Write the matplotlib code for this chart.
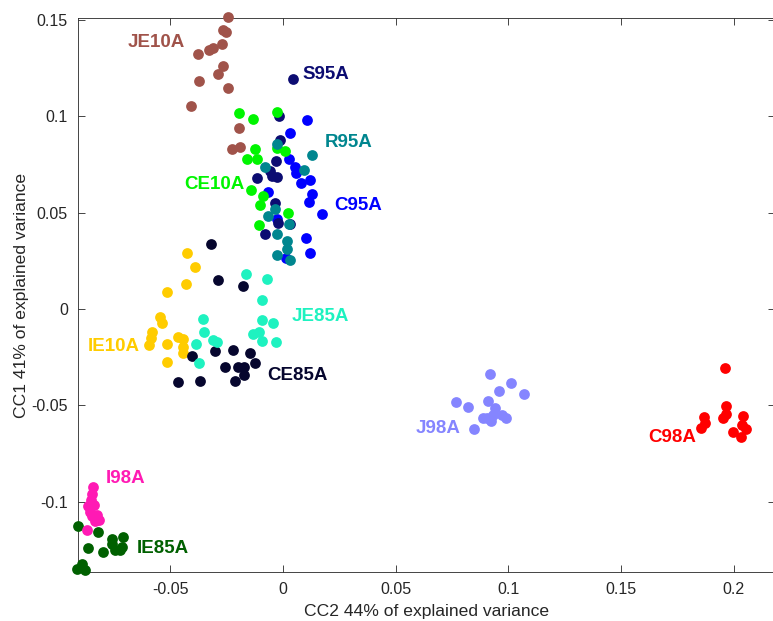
import matplotlib
matplotlib.use("Agg")
import matplotlib.pyplot as plt

plt.rcParams['font.family'] = ['Liberation Sans', 'DejaVu Sans']

# group name, colour, x values (CC2), y values (CC1), label position
names = ['IE85A', 'I98A', 'IE10A', 'CE85A', 'JE85A', 'JE10A',
         'C95A', 'S95A', 'CE10A', 'R95A', 'J98A', 'C98A']

colors = {
    'JE10A': '#a0534a', 'S95A': '#0c0c72', 'R95A': '#00868f',
    'CE10A': '#00f500', 'C95A': '#0000ff', 'JE85A': '#1ef2c0',
    'IE10A': '#ffcc00', 'CE85A': '#06062e', 'J98A': '#8585ff',
    'C98A': '#ff0000', 'I98A': '#ff1ab4', 'IE85A': '#006000',
}

JE10A_x = [-0.0245, -0.0265, -0.0254, -0.0269, -0.0309, -0.0327, -0.0378, -0.0265,
           -0.0287, -0.0373, -0.0243, -0.0407, -0.0195, -0.0227, -0.0191]
JE10A_y = [0.1515, 0.1449, 0.1437, 0.1375, 0.1354, 0.1342, 0.1325, 0.1259,
           0.1219, 0.1183, 0.1147, 0.1056, 0.0939, 0.0830, 0.0843]

S95A_x = [0.0043, -0.0019, -0.0013, -0.0030, -0.0058, -0.0028, -0.0117, -0.0035,
          -0.0022, 0.0031, -0.0080, -0.0049]
S95A_y = [0.1195, 0.1000, 0.0878, 0.0767, 0.0714, 0.0683, 0.0678, 0.0549,
          0.0448, 0.0443, 0.0391, 0.0692]

CE10A_x = [-0.0195, -0.0134, -0.0027, -0.0123, -0.0161, -0.0117, -0.0028, 0.0009,
           -0.0142, -0.0090, -0.0102, 0.0021, -0.0106]
CE10A_y = [0.1018, 0.0986, 0.1020, 0.0831, 0.0778, 0.0778, 0.0837, 0.0818,
           0.0619, 0.0587, 0.0538, 0.0501, 0.0435]

C95A_x = [0.0109, 0.0030, 0.0028, 0.0053, 0.0060, 0.0081, 0.0122, -0.0065,
          0.0129, 0.0117, 0.0173, -0.0028, 0.0103, 0.0120, 0.0016]
C95A_y = [0.0982, 0.0913, 0.0777, 0.0738, 0.0707, 0.0655, 0.0668, 0.0607,
          0.0599, 0.0554, 0.0492, 0.0468, 0.0367, 0.0290, 0.0263]

R95A_x = [0.0130, -0.0024, -0.0080, 0.0092, -0.0033, -0.0067, 0.0029, -0.0025,
          0.0018, 0.0019, -0.0027, 0.0031]
R95A_y = [0.0800, 0.0856, 0.0738, 0.0724, 0.0521, 0.0481, 0.0443, 0.0391,
          0.0353, 0.0313, 0.0279, 0.0257]

JE85A_x = [-0.0163, -0.0070, -0.0092, -0.0092, -0.0043, -0.0133, -0.0105, -0.0094,
           -0.0032, -0.0353, -0.0350, -0.0310, -0.0294, -0.0386, -0.0374]
JE85A_y = [0.0182, 0.0155, 0.0047, -0.0057, -0.0071, -0.0131, -0.0117, -0.0168,
           -0.0171, -0.0049, -0.0117, -0.0160, -0.0171, -0.0183, -0.0278]

IE10A_x = [-0.0426, -0.0389, -0.0431, -0.0512, -0.0545, -0.0534, -0.0582, -0.0587,
           -0.0595, -0.0513, -0.0463, -0.0444, -0.0445, -0.0442, -0.0513]
IE10A_y = [0.0290, 0.0220, 0.0129, 0.0088, -0.0041, -0.0074, -0.0119, -0.0149,
           -0.0185, -0.0183, -0.0143, -0.0153, -0.0195, -0.0230, -0.0276]

CE85A_x = [-0.0319, -0.0286, -0.0177, -0.0402, -0.0302, -0.0220, -0.0146, -0.0123,
           -0.0255, -0.0200, -0.0173, -0.0172, -0.0213, -0.0366, -0.0463]
CE85A_y = [0.0337, 0.0151, 0.0121, -0.0242, -0.0220, -0.0211, -0.0230, -0.0280,
           -0.0299, -0.0301, -0.0299, -0.0344, -0.0372, -0.0372, -0.0377]

J98A_x = [0.0918, 0.1010, 0.0959, 0.1069, 0.0767, 0.0822, 0.0908, 0.0940,
          0.0888, 0.0925, 0.0933, 0.0970, 0.0989, 0.0906, 0.0847]
J98A_y = [-0.0339, -0.0385, -0.0424, -0.0441, -0.0481, -0.0507, -0.0477, -0.0512,
          -0.0567, -0.0581, -0.0550, -0.0550, -0.0567, -0.0567, -0.0624]

C98A_x = [0.1960, 0.1963, 0.1953, 0.1867, 0.1871, 0.1854, 0.2041, 0.2034,
          0.2053, 0.1997, 0.2030, 0.1963]
C98A_y = [-0.0304, -0.0502, -0.0567, -0.0562, -0.0593, -0.0619, -0.0554, -0.0602,
          -0.0624, -0.0637, -0.0663, -0.0545]

I98A_x = [-0.0841, -0.0846, -0.0851, -0.0863, -0.0838, -0.0856, -0.0823, -0.0815,
          -0.0834, -0.0868, -0.0847]
I98A_y = [-0.0925, -0.0960, -0.0991, -0.1023, -0.1017, -0.1052, -0.1069, -0.1095,
          -0.1099, -0.1144, -0.1074]

IE85A_x = [-0.0908, -0.0819, -0.0760, -0.0708, -0.0863, -0.0797, -0.0760, -0.0745,
           -0.0723, -0.0715, -0.0893, -0.0915, -0.0878]
IE85A_y = [-0.1125, -0.1156, -0.1195, -0.1185, -0.1239, -0.1260, -0.1220, -0.1251,
           -0.1251, -0.1234, -0.1320, -0.1350, -0.1355]

data = {
    'JE10A': (JE10A_x, JE10A_y), 'S95A': (S95A_x, S95A_y),
    'CE10A': (CE10A_x, CE10A_y), 'C95A': (C95A_x, C95A_y),
    'R95A': (R95A_x, R95A_y), 'JE85A': (JE85A_x, JE85A_y),
    'IE10A': (IE10A_x, IE10A_y), 'CE85A': (CE85A_x, CE85A_y),
    'J98A': (J98A_x, J98A_y), 'C98A': (C98A_x, C98A_y),
    'I98A': (I98A_x, I98A_y), 'IE85A': (IE85A_x, IE85A_y),
}

# where each group name is written (left edge, vertical centre)
label_pos = {
    'JE10A': (-0.0687, 0.1382), 'S95A': (0.0089, 0.1216),
    'R95A': (0.0186, 0.0863), 'CE10A': (-0.0439, 0.0644),
    'C95A': (0.0226, 0.0535), 'JE85A': (0.0040, -0.0041),
    'IE10A': (-0.0865, -0.0192), 'CE85A': (-0.0071, -0.0347),
    'J98A': (0.0590, -0.0617), 'C98A': (0.1619, -0.0664),
    'I98A': (-0.0785, -0.0878), 'IE85A': (-0.0647, -0.1241),
}

xticks = [-0.05, 0, 0.05, 0.1, 0.15, 0.2]
xticklabels = ['-0.05', '0', '0.05', '0.1', '0.15', '0.2']
yticks = [-0.1, -0.05, 0, 0.05, 0.1, 0.15]
yticklabels = ['-0.1', '-0.05', '0', '0.05', '0.1', '0.15']

fig = plt.figure(figsize=(7.73, 6.21), dpi=100)
ax = fig.add_axes([0.1005, 0.0789, 0.902, 0.8921])

for name in names:
    xs, ys = data[name]
    ax.scatter(xs, ys, s=60, color=colors[name], linewidths=0, clip_on=False, zorder=3)
    lx, ly = label_pos[name]
    ax.text(lx, ly, name, color=colors[name], fontsize=13.5, fontweight='bold',
            ha='left', va='center', zorder=4)

ax.set_xlim(-0.0910, 0.2182)
ax.set_ylim(-0.1364, 0.1510)
ax.set_xticks(xticks)
ax.set_xticklabels(xticklabels)
ax.set_yticks(yticks)
ax.set_yticklabels(yticklabels)

ax.tick_params(direction='in', length=5, width=0.6, top=True, right=True,
               labelsize=11.5, colors='#262626', pad=7)
for sp in ax.spines.values():
    sp.set_color('#262626')
    sp.set_linewidth(0.6)

ax.set_xlabel('CC2 44% of explained variance', fontsize=12.6, color='#262626', va='baseline')
ax.set_ylabel('CC1 41% of explained variance', fontsize=12.6, color='#262626', va='baseline')
ax.xaxis.set_label_coords(0.5, -0.0800)
ax.yaxis.set_label_coords(-0.0740, 0.5)

fig.savefig('out.png', dpi=100)
